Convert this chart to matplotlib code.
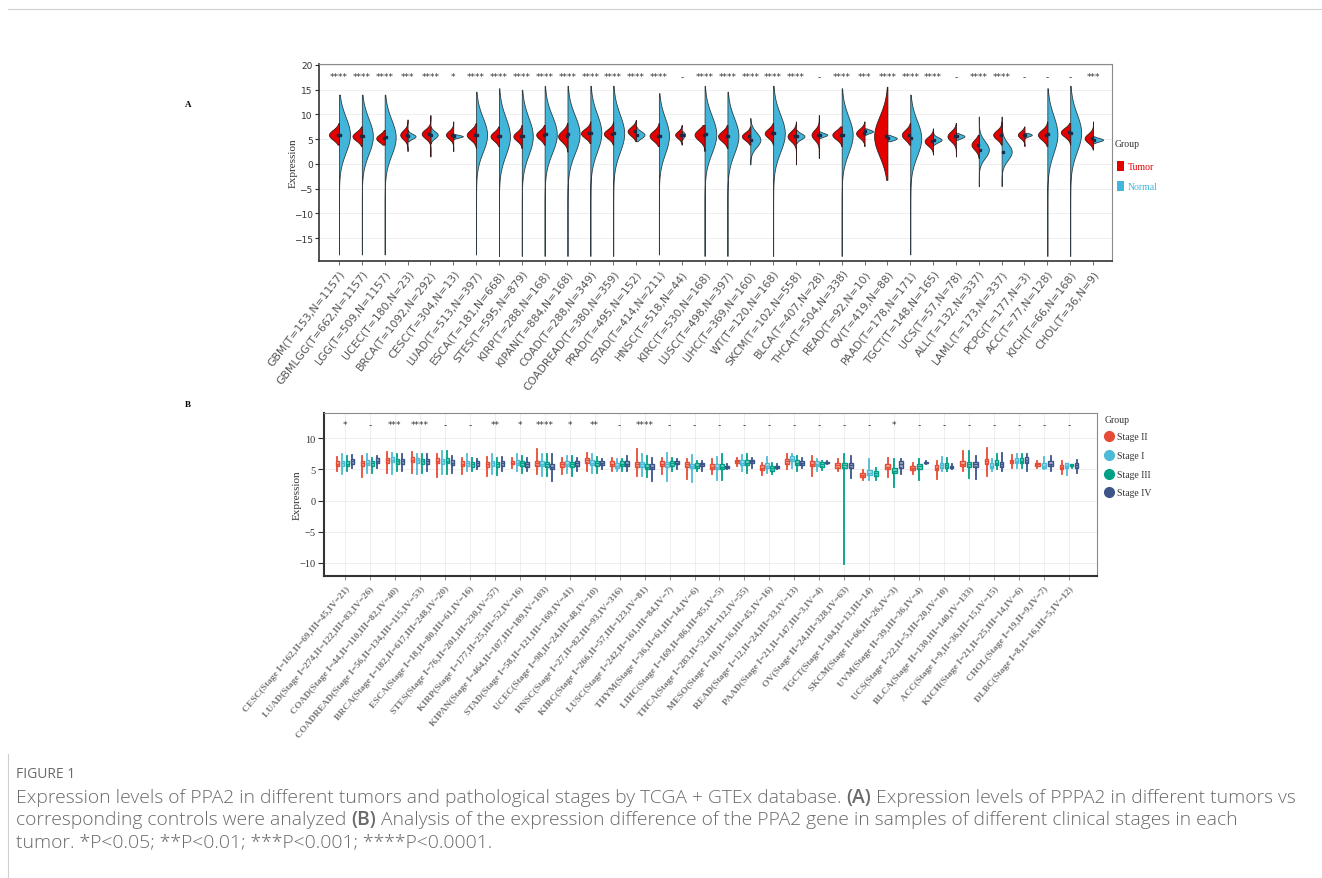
import numpy as np
import matplotlib
matplotlib.use("Agg")
import matplotlib.pyplot as plt
from matplotlib.patches import Rectangle
from matplotlib.lines import Line2D

# ---------------- Panel A data ----------------
a_labels = ["GBM(T=153,N=1157)", "GBMLGG(T=662,N=1157)", "LGG(T=509,N=1157)", "UCEC(T=180,N=23)",
            "BRCA(T=1092,N=292)", "CESC(T=304,N=13)", "LUAD(T=513,N=397)", "ESCA(T=181,N=668)",
            "STES(T=595,N=879)", "KIRP(T=288,N=168)", "KIPAN(T=884,N=168)", "COAD(T=288,N=349)",
            "COADREAD(T=380,N=359)", "PRAD(T=495,N=152)", "STAD(T=414,N=211)", "HNSC(T=518,N=44)",
            "KIRC(T=530,N=168)", "LUSC(T=498,N=397)", "LIHC(T=369,N=160)", "WT(T=120,N=168)",
            "SKCM(T=102,N=558)", "BLCA(T=407,N=28)", "THCA(T=504,N=338)", "READ(T=92,N=10)",
            "OV(T=419,N=88)", "PAAD(T=178,N=171)", "TGCT(T=148,N=165)", "UCS(T=57,N=78)",
            "ALL(T=132,N=337)", "LAML(T=173,N=337)", "PCPG(T=177,N=3)", "ACC(T=77,N=128)",
            "KICH(T=66,N=168)", "CHOL(T=36,N=9)"]
a_sig = ["****", "****", "****", "***", "****", "*", "****", "****", "****", "****", "****", "****",
         "****", "****", "****", "-", "****", "****", "****", "****", "****", "-", "****", "***",
         "****", "****", "****", "-", "****", "****", "-", "-", "-", "***"]

# Tumor half-violin: peak, spread, min, max, half-width
tum_peak = [5.9, 5.6, 5.2, 5.9, 6.1, 5.9, 5.9, 5.6, 5.6, 5.9, 5.6, 6.2, 6.1, 6.6, 5.7, 5.9, 5.9, 5.6,
            5.6, 6.2, 5.6, 5.9, 5.9, 6.2, 5.6, 5.9, 4.6, 5.6, 3.9, 5.9, 5.9, 5.9, 6.4, 5.2]
tum_sd = [1.0, 0.9, 0.8, 0.9, 0.9, 0.8, 1.0, 0.9, 0.9, 0.9, 1.1, 0.9, 0.9, 0.9, 1.0, 0.7, 1.1, 1.0,
          0.8, 0.9, 1.0, 1.0, 0.9, 0.9, 4.0, 1.0, 0.9, 1.0, 1.0, 0.9, 0.7, 1.0, 0.9, 0.9]
tum_min = [3.9, 3.6, 3.9, 2.6, 1.5, 2.6, 3.2, 3.6, 3.2, 3.9, 2.5, 4.2, 3.9, 4.6, 3.6, 3.9, 2.6, 3.2,
           3.9, 3.9, -0.1, 1.2, 3.6, 3.6, -3.2, 3.9, 1.9, 1.5, 1.2, 3.9, 3.6, 3.6, 3.9, 2.9]
tum_max = [8.3, 7.6, 6.9, 9.0, 9.9, 8.6, 8.3, 7.6, 7.9, 7.9, 8.3, 8.6, 8.6, 8.9, 8.3, 7.9, 7.9, 7.9,
           7.6, 8.3, 8.6, 9.9, 7.6, 8.6, 15.6, 8.3, 7.2, 8.3, 5.9, 8.6, 7.6, 8.6, 8.3, 8.6]
tum_width = [0.44, 0.41, 0.37, 0.32, 0.38, 0.32, 0.41, 0.37, 0.37, 0.37, 0.41, 0.41, 0.41, 0.37, 0.41,
             0.29, 0.44, 0.41, 0.37, 0.37, 0.37, 0.32, 0.41, 0.37, 0.58, 0.37, 0.37, 0.37, 0.32, 0.37,
             0.29, 0.41, 0.41, 0.37]
# Normal half-violin
nor_peak = [5.9, 5.6, 5.4, 5.6, 5.9, 5.6, 5.9, 5.6, 5.6, 6.0, 6.0, 6.3, 6.2, 5.9, 5.7, 5.9, 6.0, 5.7,
            4.9, 6.2, 5.6, 5.9, 5.9, 6.6, 5.2, 5.2, 4.9, 5.6, 2.9, 2.5, 5.9, 6.0, 6.3, 4.9]
nor_sd = [3.6, 3.6, 3.6, 0.5, 0.7, 0.25, 3.5, 3.8, 3.8, 3.8, 3.8, 3.8, 3.8, 0.7, 3.6, 0.5, 3.8, 3.6,
          1.5, 3.8, 0.6, 0.35, 3.7, 0.35, 0.4, 3.6, 0.5, 0.4, 1.7, 1.7, 0.3, 3.8, 3.8, 0.35]
nor_min = [-18.3, -18.3, -18.3, 4.6, 4.2, 5.0, -18.3, -18.6, -18.6, -18.6, -18.6, -18.6, -18.6, 4.6,
           -18.3, 4.9, -18.6, -18.6, -0.1, -18.6, 4.2, 5.2, -18.6, 5.9, 4.6, -18.3, 3.9, 4.9, -4.5,
           -4.5, 5.2, -18.6, -18.6, 4.2]
nor_max = [14.0, 14.0, 14.0, 6.9, 7.6, 6.1, 14.6, 15.3, 15.0, 15.8, 15.8, 15.8, 15.8, 7.6, 14.3, 6.6,
           15.8, 14.6, 9.3, 15.8, 6.9, 6.6, 15.3, 7.2, 5.9, 14.0, 6.6, 6.3, 9.6, 9.6, 6.3, 15.3, 15.8, 5.6]
nor_width = [0.48, 0.48, 0.48, 0.35, 0.32, 0.42, 0.48, 0.48, 0.48, 0.53, 0.53, 0.48, 0.48, 0.37, 0.44,
             0.15, 0.51, 0.48, 0.44, 0.51, 0.37, 0.37, 0.48, 0.37, 0.41, 0.48, 0.37, 0.37, 0.44, 0.44,
             0.32, 0.44, 0.48, 0.44]

# ---------------- Panel B data ----------------
b_labels = ["CESC(Stage I=162,II=69,III=45,IV=21)", "LUAD(Stage I=274,II=122,III=83,IV=26)",
            "COAD(Stage I=44,II=110,III=82,IV=40)", "COADREAD(Stage I=56,II=134,III=115,IV=53)",
            "BRCA(Stage I=182,II=617,III=248,IV=20)", "ESCA(Stage I=18,II=80,III=61,IV=16)",
            "STES(Stage I=76,II=201,III=230,IV=57)", "KIRP(Stage I=177,II=25,III=52,IV=16)",
            "KIPAN(Stage I=464,II=107,III=189,IV=103)", "STAD(Stage I=58,II=121,III=169,IV=41)",
            "UCEC(Stage I=98,II=24,III=48,IV=10)", "HNSC(Stage I=27,II=82,III=93,IV=316)",
            "KIRC(Stage I=266,II=57,III=123,IV=81)", "LUSC(Stage I=242,II=161,III=84,IV=7)",
            "THYM(Stage I=36,II=61,III=14,IV=6)", "LIHC(Stage I=169,II=86,III=85,IV=5)",
            "THCA(Stage I=283,II=52,III=112,IV=55)", "MESO(Stage I=10,II=16,III=45,IV=16)",
            "READ(Stage I=12,II=24,III=33,IV=13)", "PAAD(Stage I=21,II=147,III=3,IV=4)",
            "OV(Stage II=24,III=328,IV=63)", "TGCT(Stage I=104,II=13,III=14)",
            "SKCM(Stage II=66,III=26,IV=3)", "UVM(Stage II=39,III=36,IV=4)",
            "UCS(Stage I=22,II=5,III=20,IV=10)", "BLCA(Stage II=130,III=140,IV=133)",
            "ACC(Stage I=9,II=36,III=15,IV=15)", "KICH(Stage I=21,II=25,III=14,IV=6)",
            "CHOL(Stage I=19,II=9,IV=7)", "DLBC(Stage I=8,II=16,III=5,IV=12)"]
b_sig = ["*", "-", "***", "****", "-", "-", "**", "*", "****", "*", "**", "-", "****", "-", "-",
         "-", "-", "-", "-", "-", "-", "-", "*", "-", "-", "-", "-", "-", "-", "-"]

stage_names = ["Stage II", "Stage I", "Stage III", "Stage IV"]
# (whisker low, q1, median, q3, whisker high); None = stage absent
stage2_stats = [(4.8, 5.5, 5.9, 6.3, 7.0), (3.8, 5.6, 6.0, 6.4, 7.2), (4.5, 6.1, 6.5, 6.9, 7.8),
                (4.5, 6.2, 6.6, 7.0, 7.8), (3.8, 6.0, 6.4, 6.8, 7.5), (4.2, 5.5, 5.9, 6.3, 6.9),
                (4.0, 5.4, 5.8, 6.2, 7.0), (5.3, 5.8, 6.1, 6.4, 6.9), (4.2, 5.6, 6.0, 6.4, 8.3),
                (4.3, 5.4, 5.8, 6.2, 6.9), (4.8, 6.1, 6.5, 6.9, 7.6), (4.8, 5.5, 5.9, 6.3, 6.9),
                (4.0, 5.4, 5.8, 6.2, 8.3), (4.3, 5.5, 5.9, 6.3, 6.9), (3.4, 5.4, 5.8, 6.2, 6.7),
                (4.2, 5.0, 5.4, 5.8, 6.7), (5.6, 6.0, 6.3, 6.6, 6.9), (4.1, 4.9, 5.3, 5.7, 6.1),
                (5.1, 5.9, 6.3, 6.7, 7.5), (4.0, 5.5, 5.9, 6.3, 7.2), (4.8, 5.3, 5.7, 6.1, 6.7),
                (3.3, 3.8, 4.1, 4.5, 4.9), (3.8, 5.0, 5.4, 5.8, 6.9), (4.3, 4.9, 5.2, 5.5, 6.1),
                (3.4, 4.9, 5.3, 5.7, 6.4), (4.8, 5.5, 5.9, 6.3, 8.0), (4.0, 5.9, 6.3, 6.7, 8.4),
                (5.3, 6.0, 6.3, 6.6, 7.4), (5.3, 5.6, 5.8, 6.0, 6.4), (4.3, 5.1, 5.4, 5.7, 6.4)]
stage1_stats = [(4.2, 5.6, 6.0, 6.4, 7.5), (4.5, 5.7, 6.1, 6.5, 7.5), (4.3, 6.2, 6.6, 7.0, 7.6),
                (4.3, 6.1, 6.5, 6.9, 7.5), (4.3, 5.9, 6.3, 6.7, 7.9), (4.8, 5.6, 6.0, 6.4, 7.5),
                (4.3, 5.6, 6.0, 6.4, 7.5), (4.8, 5.7, 6.1, 6.5, 7.5), (4.0, 5.5, 5.9, 6.3, 7.5),
                (4.4, 5.5, 5.9, 6.3, 7.2), (4.5, 5.7, 6.1, 6.5, 7.5), (4.8, 5.2, 5.6, 6.0, 6.7),
                (4.0, 5.4, 5.8, 6.2, 7.5), (3.1, 5.4, 5.8, 6.2, 7.6), (3.0, 5.3, 5.6, 5.9, 7.4),
                (3.3, 5.0, 5.4, 5.8, 7.0), (4.8, 5.7, 6.1, 6.5, 7.4), (4.5, 5.2, 5.6, 6.0, 7.0),
                (5.3, 6.3, 6.7, 7.1, 7.5), (4.8, 5.5, 5.9, 6.3, 6.7), None,
                (3.3, 4.1, 4.5, 4.9, 6.7), None, None,
                (4.8, 5.3, 5.7, 6.1, 7.0), None, (4.8, 5.2, 5.6, 6.0, 6.7),
                (5.3, 6.0, 6.4, 6.8, 7.5), (5.1, 5.2, 5.6, 6.0, 7.0), (4.1, 5.2, 5.6, 6.0, 6.1)]
stage3_stats = [(4.8, 5.5, 5.9, 6.3, 7.2), (4.5, 5.6, 6.0, 6.4, 6.9), (4.8, 5.9, 6.3, 6.7, 7.5),
                (4.5, 5.9, 6.3, 6.7, 7.5), (4.3, 6.0, 6.4, 6.8, 7.9), (4.8, 5.4, 5.8, 6.2, 6.9),
                (4.1, 5.4, 5.8, 6.2, 6.9), (4.5, 5.6, 6.0, 6.4, 7.2), (4.0, 5.4, 5.8, 6.2, 7.5),
                (4.0, 5.4, 5.8, 6.2, 7.2), (4.5, 5.6, 6.0, 6.4, 7.0), (4.8, 5.5, 5.9, 6.3, 6.7),
                (3.8, 5.0, 5.4, 5.8, 7.2), (4.8, 5.6, 6.0, 6.4, 6.9), (4.8, 5.2, 5.6, 6.0, 6.4),
                (3.3, 5.0, 5.4, 5.8, 7.5), (4.5, 5.7, 6.1, 6.5, 7.5), (4.2, 4.8, 5.2, 5.6, 6.1),
                (4.8, 5.7, 6.1, 6.5, 7.2), (4.9, 5.4, 5.8, 6.2, 6.4), (-10.1, 5.3, 5.7, 6.1, 7.5),
                (3.3, 4.0, 4.4, 4.8, 5.3), (2.2, 4.4, 4.8, 5.2, 6.7), (3.3, 5.1, 5.5, 5.9, 6.7),
                (4.8, 5.3, 5.7, 6.1, 6.8), (3.7, 5.4, 5.8, 6.2, 8.0), (5.0, 5.7, 6.1, 6.5, 7.5),
                (5.3, 6.0, 6.4, 6.8, 7.5), None, (5.3, 5.5, 5.6, 5.8, 5.9)]
stage4_stats = [(5.3, 5.9, 6.3, 6.7, 7.4), (5.3, 6.0, 6.4, 6.8, 7.2), (4.8, 5.9, 6.3, 6.7, 7.5),
                (4.8, 5.9, 6.3, 6.7, 7.5), (4.5, 5.7, 6.1, 6.5, 7.2), (5.0, 5.6, 6.0, 6.4, 6.7),
                (4.8, 5.6, 6.0, 6.4, 7.0), (4.8, 5.4, 5.8, 6.2, 6.9), (3.1, 5.0, 5.4, 5.8, 7.5),
                (4.8, 5.6, 6.0, 6.4, 6.9), (5.0, 5.7, 6.0, 6.3, 6.7), (4.8, 5.5, 5.9, 6.3, 7.2),
                (3.1, 5.0, 5.4, 5.8, 6.9), (5.0, 5.8, 6.1, 6.4, 6.7), (4.8, 5.5, 5.8, 6.1, 6.4),
                (5.0, 5.2, 5.4, 5.6, 5.8), (5.3, 6.0, 6.3, 6.6, 6.8), (5.0, 5.2, 5.4, 5.6, 5.8),
                (5.3, 5.7, 6.0, 6.3, 6.9), (5.9, 6.0, 6.1, 6.2, 6.4), (3.7, 5.3, 5.7, 6.1, 7.2),
                None, (4.3, 5.2, 5.8, 6.4, 6.7), (5.9, 6.0, 6.1, 6.2, 6.4),
                (5.0, 5.2, 5.4, 5.6, 5.8), (3.4, 5.4, 5.8, 6.2, 7.2), (4.8, 5.4, 5.8, 6.2, 7.6),
                (4.8, 6.0, 6.5, 7.0, 7.5), (4.8, 5.5, 5.9, 6.3, 7.2), (4.5, 5.3, 5.7, 6.1, 6.5)]

# ---------------- styling ----------------
W, H = 1322, 879
RED = "#E50000"
BLUE = "#41B6DA"
STAGE_COLORS = ["#E64B35", "#4DBBD5", "#00A087", "#3C5488"]
SERIF = "Liberation Serif"

fig = plt.figure(figsize=(W / 100, H / 100), dpi=100)


def fx(x):
    return x / W


def fy(y):
    return 1 - y / H


def axes_px(l, t, r, b):
    return fig.add_axes([fx(l), fy(b), (r - l) / W, (b - t) / H])


# ================= Panel A =================
axA = axes_px(319, 65, 1112, 262)
nA = len(a_labels)
for i in range(nA):
    x = i + 1
    ys = np.linspace(nor_min[i], nor_max[i], 400)
    w = nor_width[i] * np.exp(-0.5 * ((ys - nor_peak[i]) / nor_sd[i]) ** 2)
    axA.fill_betweenx(ys, x, x + w, facecolor=BLUE, edgecolor="#2f3f45", lw=0.6, zorder=3)
    ys = np.linspace(tum_min[i], tum_max[i], 400)
    w = tum_width[i] * np.exp(-0.5 * ((ys - tum_peak[i]) / tum_sd[i]) ** 2)
    axA.fill_betweenx(ys, x - w, x, facecolor=RED, edgecolor="#3a1a1a", lw=0.6, zorder=3)
    axA.plot([x - 0.04], [tum_peak[i]], marker="s", ms=1.6, color="#1e2a44", zorder=4)
    axA.plot([x + 0.04], [nor_peak[i]], marker="s", ms=1.6, color="#1e2a44", zorder=4)
    axA.text(x, 17.7, a_sig[i], ha="center", va="center", fontsize=6.5, color="#333333",
             family="DejaVu Sans", zorder=5)

axA.set_xlim(0.125, 34.83)
axA.set_ylim(-19.6, 20.2)
axA.set_yticks([-15, -10, -5, 0, 5, 10, 15, 20])
axA.set_xticks(np.arange(1, nA + 1))
axA.set_xticklabels(a_labels, rotation=52, ha="right", va="top", rotation_mode="anchor",
                    fontsize=7.8, color="#404040", family="DejaVu Sans")
axA.tick_params(axis="y", length=3, width=0.8, labelsize=6.5, pad=1.5, colors="#333333")
axA.tick_params(axis="x", length=3, width=0.6, pad=2, colors="#555555")
axA.yaxis.grid(True, color="#ececec", lw=0.6)
axA.set_axisbelow(True)
for s in ["left", "bottom"]:
    axA.spines[s].set_color("#333333")
    axA.spines[s].set_linewidth(1.2)
for s in ["top", "right"]:
    axA.spines[s].set_color("#8a8a8a")
    axA.spines[s].set_linewidth(0.8)
fig.text(fx(293), fy(163), "Expression", rotation=90, ha="center", va="center",
         fontsize=8, family=SERIF, color="#333333")

# Legend A
fig.text(fx(1115), fy(145), "Group", ha="left", va="center", fontsize=7, family=SERIF, color="#333333")
fig.patches.append(Rectangle((fx(1117), fy(172)), 7 / W, 10 / H, transform=fig.transFigure,
                             facecolor=RED, edgecolor="none"))
fig.text(fx(1128), fy(168), "Tumor", ha="left", va="center", fontsize=7, family=SERIF, color=RED)
fig.patches.append(Rectangle((fx(1117), fy(192)), 7 / W, 10 / H, transform=fig.transFigure,
                             facecolor=BLUE, edgecolor="none"))
fig.text(fx(1128), fy(187), "Normal", ha="left", va="center", fontsize=7, family=SERIF, color=BLUE)

# ================= Panel B =================
axB = axes_px(324, 414, 1097, 577)
nB = len(b_labels)
all_stats = [stage2_stats, stage1_stats, stage3_stats, stage4_stats]
for k, stats_list in enumerate(all_stats):
    pos, stats, widths = [], [], []
    for i in range(nB):
        if stats_list[i] is None:
            continue
        present = [j for j in range(4) if all_stats[j][i] is not None]
        n = len(present)
        slot = present.index(k)
        step = 0.8 / n
        pos.append(i + 1 + (slot - (n - 1) / 2) * step)
        widths.append(step * 0.7)
        lo, q1, med, q3, hi = stats_list[i]
        stats.append(dict(whislo=lo, q1=q1, med=med, q3=q3, whishi=hi, fliers=[]))
    c = STAGE_COLORS[k]
    axB.bxp(stats, positions=pos, widths=widths, patch_artist=True, showfliers=False, showcaps=False,
            boxprops=dict(facecolor=matplotlib.colors.to_rgba(c, 0.45), edgecolor=c, lw=1.0),
            whiskerprops=dict(color=c, lw=1.3), medianprops=dict(color=c, lw=1.0),
            manage_ticks=False, zorder=3)

for i in range(nB):
    axB.text(i + 1, 12.2, b_sig[i], ha="center", va="center", fontsize=6.5, color="#333333",
             family="DejaVu Sans", zorder=5)

axB.set_xlim(0.16, 31.12)
axB.set_ylim(-12.09, 14.06)
axB.set_yticks([-10, -5, 0, 5, 10])
axB.set_xticks(np.arange(1, nB + 1))
axB.set_xticklabels(b_labels, rotation=50, ha="right", va="top", rotation_mode="anchor",
                    fontsize=6.8, color="#555555", family=SERIF, fontweight="bold")
axB.tick_params(axis="y", length=4, width=0.8, pad=2, colors="#333333")
for lab in axB.get_yticklabels():
    lab.set_family(SERIF)
    lab.set_fontsize(7.5)
axB.tick_params(axis="x", length=3, width=0.6, pad=3, colors="#777777")
axB.grid(True, color="#ebebeb", lw=0.6)
axB.set_axisbelow(True)
for s in ["left", "bottom"]:
    axB.spines[s].set_color("#333333")
    axB.spines[s].set_linewidth(1.5)
for s in ["top", "right"]:
    axB.spines[s].set_color("#8a8a8a")
    axB.spines[s].set_linewidth(0.8)
fig.text(fx(297), fy(495), "Expression", rotation=90, ha="center", va="center",
         fontsize=8, family=SERIF, color="#333333")

# Legend B
fig.text(fx(1105), fy(421), "Group", ha="left", va="center", fontsize=7, family=SERIF, color="#333333")
for k, yy in enumerate([437, 456, 475, 493]):
    fig.lines.append(Line2D([fx(1109)], [fy(yy)], transform=fig.transFigure, marker="o", ms=7,
                            color=STAGE_COLORS[k], lw=0))
    fig.text(fx(1117), fy(yy + 1), stage_names[k], ha="left", va="center", fontsize=7,
             family=SERIF, color="#333333")

# Panel letters
fig.text(fx(188), fy(105), "A", fontsize=6.5, family=SERIF, fontweight="bold", ha="center", va="center")
fig.text(fx(188), fy(405), "B", fontsize=6.5, family=SERIF, fontweight="bold", ha="center", va="center")

# Frame lines
fig.lines.append(Line2D([fx(8), fx(1322)], [fy(10), fy(10)], transform=fig.transFigure,
                        color="#d0d0d0", lw=0.8))
fig.lines.append(Line2D([fx(8), fx(8)], [fy(755), fy(879)], transform=fig.transFigure,
                        color="#d0d0d0", lw=0.8))

# ================= Caption =================
CAP = "#6a6a6a"
CFONT = "Open Sans"
CSIZE = 13.85
fig.text(fx(16), fy(778), "FIGURE 1", fontsize=10, family=CFONT, color=CAP, va="baseline")

renderer = fig.canvas.get_renderer()


def measure(s, weight):
    t = fig.text(0, 0, s, fontsize=CSIZE, family=CFONT, fontweight=weight)
    w = t.get_window_extent(renderer=renderer).width
    t.remove()
    return w


space_w = measure("x x", "light") - measure("xx", "light")


def runs_line(y, runs):
    x = 16
    for txt, weight in runs:
        t = fig.text(fx(x), fy(y), txt, fontsize=CSIZE, family=CFONT, fontweight=weight,
                     color=CAP, va="baseline")
        x += t.get_window_extent(renderer=renderer).width + space_w


runs_line(803, [("Expression levels of PPA2 in different tumors and pathological stages by TCGA + GTEx database.", "light"),
                ("(A)", "semibold"),
                ("Expression levels of PPPA2 in different tumors vs", "light")])
runs_line(825, [("corresponding controls were analyzed", "light"),
                ("(B)", "semibold"),
                ("Analysis of the expression difference of the PPA2 gene in samples of different clinical stages in each", "light")])
runs_line(847, [("tumor. *P<0.05; **P<0.01; ***P<0.001; ****P<0.0001.", "light")])

fig.savefig("out.png", dpi=100)
